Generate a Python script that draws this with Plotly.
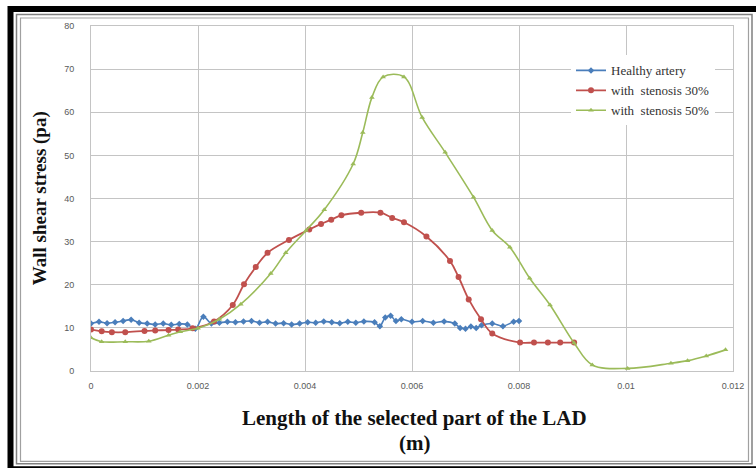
import plotly.graph_objects as go

# ---------------- data ----------------
x_healthy = [0, 0.00015, 0.0003, 0.00045, 0.0006, 0.00075, 0.0009, 0.00105, 0.0012, 0.00135,
             0.0015, 0.00165, 0.0018, 0.00195, 0.0021, 0.00225, 0.0024, 0.00255, 0.0027, 0.00285,
             0.003, 0.00315, 0.0033, 0.00345, 0.0036, 0.00375, 0.0039, 0.00405, 0.0042, 0.00435,
             0.0045, 0.00465, 0.0048, 0.00495, 0.0051, 0.0053, 0.0054, 0.0055, 0.0056, 0.0057,
             0.0058, 0.006, 0.0062, 0.0064, 0.0066, 0.0068, 0.0069, 0.007, 0.0071, 0.0072,
             0.0073, 0.0075, 0.0077, 0.0079, 0.008]
y_healthy = [11.0, 11.4, 11.1, 11.3, 11.6, 11.9, 11.2, 11.0, 10.8, 11.0,
             10.7, 10.9, 10.8, 9.8, 12.6, 11.0, 11.2, 11.4, 11.3, 11.5,
             11.6, 11.2, 11.4, 11.0, 11.1, 10.8, 11.0, 11.3, 11.2, 11.5,
             11.3, 11.1, 11.4, 11.2, 11.5, 11.3, 10.4, 12.4, 12.8, 11.6,
             12.0, 11.4, 11.6, 11.2, 11.5, 11.0, 10.0, 9.8, 10.3, 10.0,
             10.6, 11.0, 10.4, 11.4, 11.6]

x_st30 = [0, 0.0002, 0.00039, 0.00064, 0.001, 0.0012, 0.00145, 0.00163, 0.0019, 0.0023,
          0.00265, 0.00286, 0.00308, 0.0033, 0.0037, 0.00408, 0.0043, 0.00449, 0.00468, 0.00505,
          0.00541, 0.00563, 0.00585, 0.00627, 0.00671, 0.00687, 0.00706, 0.00729, 0.0075, 0.00802,
          0.00828, 0.00854, 0.00877, 0.00903]
y_st30 = [9.6, 9.2, 9.0, 9.0, 9.3, 9.4, 9.5, 9.6, 9.9, 11.5,
          15.3, 20.1, 24.1, 27.4, 30.4, 32.8, 34.1, 35.1, 36.1, 36.7,
          36.7, 35.5, 34.5, 31.2, 25.5, 21.8, 16.6, 12.0, 8.7, 6.6,
          6.6, 6.6, 6.6, 6.6]

x_st50 = [0, 0.0002, 0.00064, 0.00108, 0.00145, 0.00167, 0.002, 0.0024, 0.0028, 0.00336,
          0.00364, 0.00402, 0.00436, 0.0049, 0.00508, 0.00525, 0.00546, 0.00585, 0.00619, 0.00662,
          0.00715, 0.0075, 0.00783, 0.0082, 0.00858, 0.00903, 0.00937, 0.01003, 0.01084, 0.01115,
          0.0115, 0.01186]
y_st50 = [7.7, 6.8, 6.8, 6.9, 8.3, 9.1, 9.9, 12.0, 15.5, 22.6,
          27.4, 32.6, 37.4, 48.0, 55.3, 63.4, 68.2, 68.2, 58.8, 50.7,
          40.3, 32.6, 28.7, 21.5, 15.3, 6.5, 1.4, 0.6, 1.8, 2.4,
          3.5, 4.9]

series_names = ["Healthy artery", "with  stenosis 30%", "with  stenosis 50%"]
x_tickvals = [0, 0.002, 0.004, 0.006, 0.008, 0.01, 0.012]
x_ticktext = ["0", "0.002", "0.004", "0.006", "0.008", "0.01", "0.012"]
y_tickvals = [0, 10, 20, 30, 40, 50, 60, 70, 80]

# ---------------- layout helpers ----------------
W, H = 756, 468
L, R, T, B = 91, 733, 25.5, 371


def px(x):
    return (x - L) / (R - L)


def py(y):
    return (B - y) / (B - T)


fig = go.Figure()
fig.add_trace(go.Scatter(x=x_healthy, y=y_healthy, name=series_names[0], mode="lines+markers",
                         line=dict(color="#4a7ebb", width=1.6, shape="spline"),
                         marker=dict(symbol="diamond", size=5, color="#4a7ebb")))
fig.add_trace(go.Scatter(x=x_st30, y=y_st30, name=series_names[1], mode="lines+markers",
                         line=dict(color="#c0504d", width=1.8, shape="spline"),
                         marker=dict(symbol="circle", size=6, color="#c0504d")))
fig.add_trace(go.Scatter(x=x_st50, y=y_st50, name=series_names[2], mode="lines+markers",
                         line=dict(color="#9bbb59", width=1.6, shape="spline"),
                         marker=dict(symbol="triangle-up", size=5, color="#9bbb59")))

grid = "#c4c4c4"
fig.update_layout(
    width=W, height=H,
    margin=dict(l=L, r=W - R, t=T, b=H - B),
    paper_bgcolor="white", plot_bgcolor="white",
    showlegend=True,
    legend=dict(x=px(571), y=py(55), xanchor="left", yanchor="top",
                bgcolor="white", font=dict(family="Liberation Serif", size=13, color="#333333"),
                itemwidth=30, tracegroupgap=0),
    xaxis=dict(range=[0, 0.012], tickvals=x_tickvals, ticktext=x_ticktext,
               showgrid=True, gridcolor=grid, gridwidth=1, zeroline=False,
               showline=True, mirror=True, linecolor=grid, linewidth=1,
               ticks="", ticklabelstandoff=6,
               tickfont=dict(family="Liberation Sans", size=9, color="#595959")),
    yaxis=dict(range=[0, 80], tickvals=y_tickvals,
               showgrid=True, gridcolor=grid, gridwidth=1, zeroline=False,
               showline=True, mirror=True, linecolor=grid, linewidth=1,
               ticks="", ticklabelstandoff=14,
               tickfont=dict(family="Liberation Sans", size=9, color="#595959")),
)

title_font = dict(family="Liberation Serif", size=21, color="#111111")
fig.add_annotation(xref="paper", yref="paper", x=px(415), y=py(418), text="<b>Length of the selected part of the LAD</b>",
                   showarrow=False, font=title_font, xanchor="center", yanchor="middle")
fig.add_annotation(xref="paper", yref="paper", x=px(415), y=py(443), text="<b>(m)</b>",
                   showarrow=False, font=title_font, xanchor="center", yanchor="middle")
fig.add_annotation(xref="paper", yref="paper", x=px(40), y=py(198), text="<b>Wall shear stress (pa)</b>",
                   showarrow=False, font=dict(family="Liberation Serif", size=19, color="#111111"),
                   textangle=-90, xanchor="center", yanchor="middle")

# frame around the picture
fig.add_shape(type="rect", xref="paper", yref="paper", x0=px(10.5), x1=px(780), y0=py(8.5), y1=py(469.5),
              line=dict(color="black", width=6), layer="above")
fig.add_shape(type="rect", xref="paper", yref="paper", x0=px(16.5), x1=px(752), y0=py(14), y1=py(464),
              line=dict(color="#808080", width=1.5), layer="above")
fig.add_shape(type="rect", xref="paper", yref="paper", x0=px(20.5), x1=px(748.5), y0=py(17.5), y1=py(461.5),
              line=dict(color="#a0a0a0", width=1.2), layer="above")

fig.write_html("out.html")
